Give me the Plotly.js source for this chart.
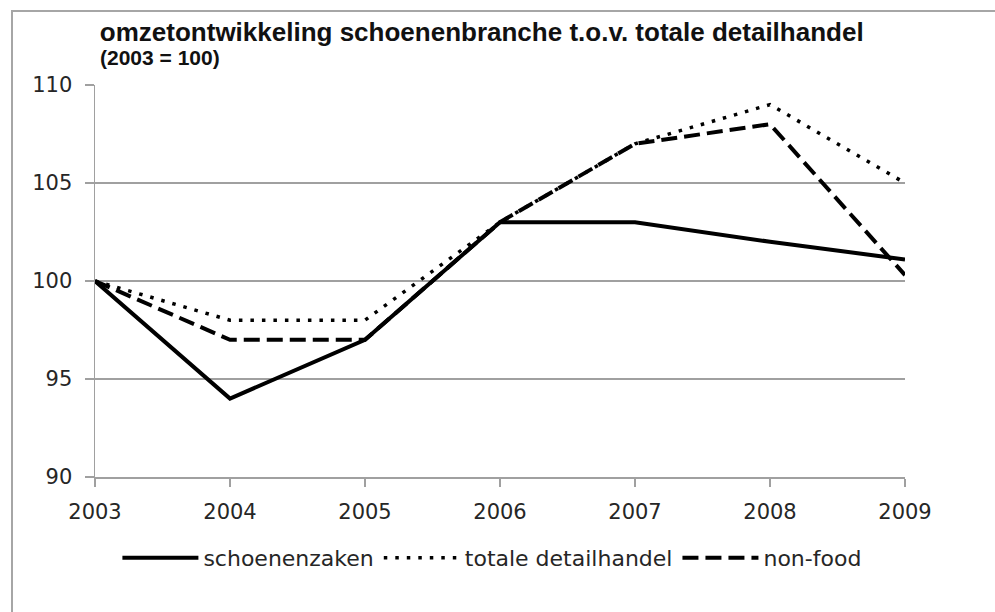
<!DOCTYPE html>
<html>
<head>
<meta charset="utf-8">
<script src="https://cdn.plot.ly/plotly-3.0.1.min.js"></script>
<style>
html,body{margin:0;padding:0;background:#fff;}
#chart{width:995px;height:612px;}
</style>
</head>
<body>
<div id="chart"></div>
<script>
var years = [2003, 2004, 2005, 2006, 2007, 2008, 2009];
var schoenenzaken = [100, 94, 97, 103, 103, 102, 101.1];
var totaleDetailhandel = [100, 98, 98, 103, 107, 109, 105];
var nonFood = [100, 97, 97, 103, 107, 108, 100.3];
var seriesNames = ['schoenenzaken', 'totale detailhandel', 'non-food'];
var yTicks = [90, 95, 100, 105, 110];

var tickFont = {family: 'DejaVu Sans, sans-serif', size: 21, color: '#262626'};

var traces = [
  {x: years, y: schoenenzaken, name: seriesNames[0], mode: 'lines',
   line: {color: '#000', width: 4, dash: 'solid'}},
  {x: years, y: totaleDetailhandel, name: seriesNames[1], mode: 'lines',
   line: {color: '#000', width: 3.5, dash: '3.5px,8px'}},
  {x: years, y: nonFood, name: seriesNames[2], mode: 'lines',
   line: {color: '#000', width: 4, dash: '16px,7px'}}
];

var layout = {
  width: 995, height: 612,
  margin: {l: 95, r: 90, t: 85, b: 135},
  paper_bgcolor: '#fff', plot_bgcolor: '#fff',
  showlegend: true,
  title: {
    text: '<b>omzetontwikkeling schoenenbranche t.o.v. totale detailhandel</b>',
    font: {family: 'Liberation Sans, Arial, sans-serif', size: 26, color: '#111'},
    xref: 'paper', x: 0.006, xanchor: 'left',
    yref: 'container', y: 0.948, yanchor: 'middle'
  },
  annotations: [{
    text: '<b>(2003 = 100)</b>',
    xref: 'paper', yref: 'paper',
    x: 0.004, xanchor: 'left',
    y: (477 - 58) / 392, yanchor: 'middle',
    showarrow: false,
    font: {family: 'Liberation Sans, Arial, sans-serif', size: 21, color: '#111'}
  }],
  xaxis: {
    range: [2003, 2009],
    tickmode: 'array', tickvals: years, ticktext: years.map(String),
    showgrid: false, zeroline: false,
    showline: true, linecolor: '#a0a0a0', linewidth: 1.5,
    ticks: 'outside', ticklen: 8, tickcolor: '#a0a0a0', tickwidth: 1.5,
    ticklabelstandoff: 7,
    tickfont: tickFont, fixedrange: true
  },
  yaxis: {
    range: [90, 110],
    tickmode: 'array', tickvals: yTicks, ticktext: yTicks.map(String),
    showgrid: true, gridcolor: '#a0a0a0', gridwidth: 1.5,
    zeroline: false,
    showline: true, linecolor: '#a0a0a0', linewidth: 1.5,
    ticks: 'outside', ticklen: 9, tickcolor: '#a0a0a0', tickwidth: 1.5,
    ticklabelstandoff: 8,
    tickfont: tickFont, fixedrange: true
  },
  legend: {
    orientation: 'h',
    x: 0.49, xanchor: 'center',
    y: (477 - 558) / 392, yanchor: 'middle',
    font: {family: 'DejaVu Sans, sans-serif', size: 22, color: '#262626'},
    itemwidth: 76,
    bgcolor: 'rgba(0,0,0,0)'
  },
  shapes: [{
    type: 'rect', xref: 'paper', yref: 'paper',
    x0: (12 - 95) / 810, x1: 1.2,
    y0: -0.5, y1: (477 - 11) / 392,
    line: {color: '#a6a6a6', width: 2}, fillcolor: 'rgba(0,0,0,0)', layer: 'below'
  }]
};

Plotly.newPlot('chart', traces, layout, {displayModeBar: false, staticPlot: true});
</script>
</body>
</html>
